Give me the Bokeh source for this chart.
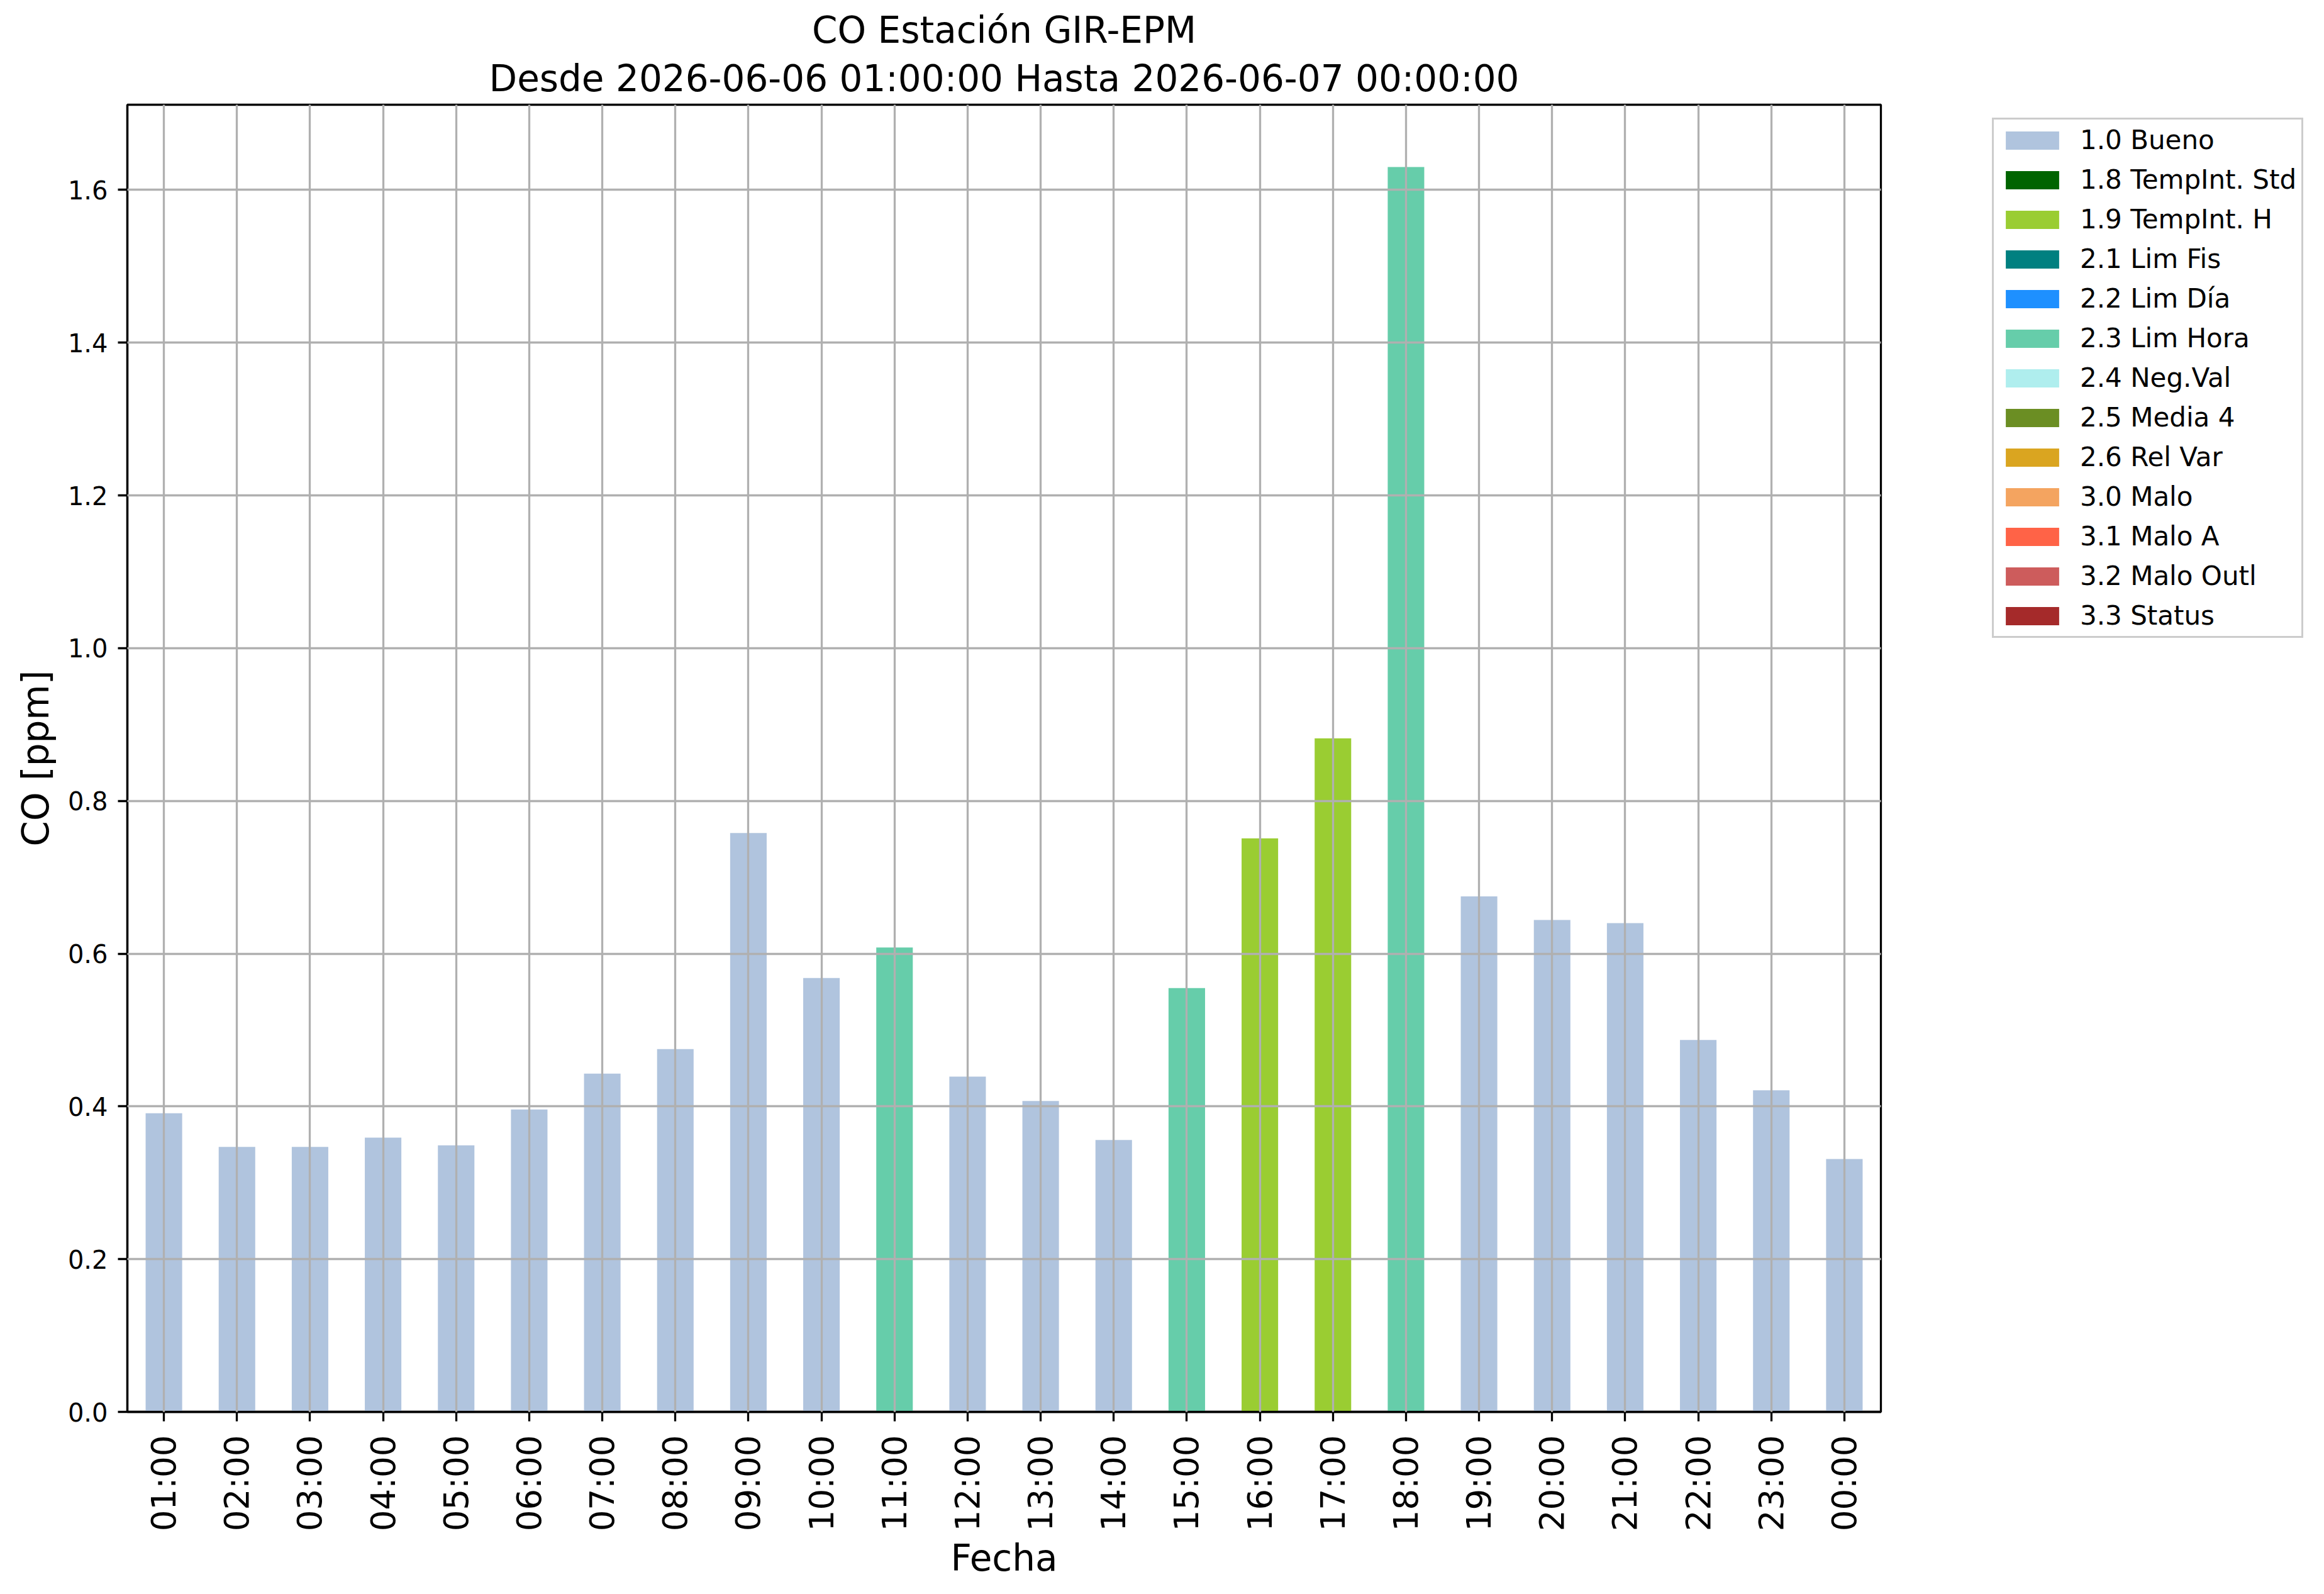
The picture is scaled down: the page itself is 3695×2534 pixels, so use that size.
import math
from bokeh.plotting import figure
from bokeh.layouts import row
from bokeh.models import (FactorRange, Range1d, Legend, LegendItem, Title,
                          FixedTicker, PrintfTickFormatter)
from bokeh.embed import file_html
from bokeh.resources import INLINE

# ---- data ----
hours = ["01:00", "02:00", "03:00", "04:00", "05:00", "06:00", "07:00", "08:00",
         "09:00", "10:00", "11:00", "12:00", "13:00", "14:00", "15:00", "16:00",
         "17:00", "18:00", "19:00", "20:00", "21:00", "22:00", "23:00", "00:00"]
co_values = [0.391, 0.347, 0.347, 0.359, 0.349, 0.396, 0.443, 0.475,
             0.758, 0.568, 0.608, 0.439, 0.407, 0.356, 0.555, 0.751,
             0.882, 1.630, 0.675, 0.644, 0.640, 0.487, 0.421, 0.331]
hour_flags = ["1.0 Bueno"] * 10 + ["2.3 Lim Hora"] + ["1.0 Bueno"] * 3 + \
             ["2.3 Lim Hora", "1.9 TempInt. H", "1.9 TempInt. H", "2.3 Lim Hora"] + \
             ["1.0 Bueno"] * 6
flag_names = ["1.0 Bueno", "1.8 TempInt. Std", "1.9 TempInt. H", "2.1 Lim Fis",
              "2.2 Lim Día", "2.3 Lim Hora", "2.4 Neg.Val", "2.5 Media 4",
              "2.6 Rel Var", "3.0 Malo", "3.1 Malo A", "3.2 Malo Outl", "3.3 Status"]
flag_colors = ["#B0C4DE", "#006400", "#9ACD32", "#008080", "#1E90FF", "#66CDAA",
               "#AFEEEE", "#6B8E23", "#DAA520", "#F4A460", "#FF6347", "#CD5C5C",
               "#A52A2A"]
y_ticks = [0.0, 0.2, 0.4, 0.6, 0.8, 1.0, 1.2, 1.4, 1.6]

title_line1 = "CO Estación GIR-EPM"
title_line2 = "Desde 2026-06-06 01:00:00 Hasta 2026-06-07 00:00:00"

FONT = "DejaVu Sans"
LW = 3.3
H = 2518

# ---------------- main chart ----------------
p = figure(width=3000, height=H,
           x_range=FactorRange(factors=hours),
           y_range=Range1d(0, max(co_values) * 1.05),
           output_backend="svg", toolbar_location=None,
           min_border_left=202, min_border_right=10,
           min_border_top=166, min_border_bottom=274)

p.title = None
t2 = Title(text=title_line2, align="center", text_font=FONT, text_color="black",
           text_font_size="58px", text_font_style="normal", standoff=15)
t1 = Title(text=title_line1, align="center", text_font=FONT, text_color="black",
           text_font_size="58px", text_font_style="normal", standoff=0)
p.add_layout(t2, "above")
p.add_layout(t1, "above")

# stacked like pandas: every flag gets every hour, zero where not flagged
for name, color in zip(flag_names, flag_colors):
    tops = [v if f == name else 0.0 for v, f in zip(co_values, hour_flags)]
    p.vbar(x=hours, top=tops, bottom=0, width=0.5,
           fill_color=color, line_color=None)

for g in (p.xgrid, p.ygrid):
    g.grid_line_color = "#b0b0b0"
    g.grid_line_width = LW
    g.level = "overlay"

p.outline_line_color = "black"
p.outline_line_width = LW
p.background_fill_color = "white"
p.border_fill_color = "white"

p.yaxis.ticker = FixedTicker(ticks=y_ticks)
p.yaxis.formatter = PrintfTickFormatter(format="%.1f")
for ax in (p.xaxis, p.yaxis):
    ax.axis_line_color = "black"
    ax.axis_line_width = LW
    ax.major_tick_line_width = LW
    ax.major_tick_line_color = "black"
    ax.major_tick_out = 15
    ax.major_tick_in = 0
    ax.minor_tick_line_color = None
    ax.axis_label_text_font = FONT
    ax.axis_label_text_font_size = "58px"
    ax.axis_label_text_font_style = "normal"
    ax.axis_label_text_color = "black"
    ax.major_label_text_font = FONT
    ax.major_label_text_color = "black"

p.xaxis.axis_label = "Fecha"
p.xaxis.major_label_text_font_size = "53px"
p.xaxis.major_label_orientation = math.pi / 2
p.xaxis.major_label_standoff = 22
p.xaxis.axis_label_standoff = 6

p.yaxis.axis_label = "CO [ppm]"
p.yaxis.major_label_text_font_size = "40px"
p.yaxis.major_label_standoff = 16
p.yaxis.axis_label_standoff = 14

# ---------------- legend panel ----------------
q = figure(width=679, height=H, x_range=Range1d(0, 1), y_range=Range1d(0, 1),
           x_axis_type=None, y_axis_type=None,
           output_backend="svg", toolbar_location=None,
           min_border=0, min_border_left=0, min_border_right=0,
           min_border_top=0, min_border_bottom=0)
q.outline_line_color = None
q.background_fill_color = "white"
q.border_fill_color = "white"

items = []
for name, color in zip(flag_names, flag_colors):
    proxy = q.vbar(x=[0.5], top=[0.0], bottom=0.0, width=0.1,
                   fill_color=color, line_color=None)
    items.append(LegendItem(label=name, renderers=[proxy]))

legend = Legend(items=items, location=(167, 1230), ncols=1,
                label_text_font=FONT, label_text_font_size="42px",
                label_text_color="black",
                glyph_width=106, glyph_height=36, label_height=48,
                label_standoff=23, spacing=14, padding=8, margin=0,
                border_line_color="#cccccc", border_line_width=LW,
                border_line_alpha=1.0, background_fill_color="white",
                background_fill_alpha=1.0)
q.add_layout(legend, "center")

layout = row(p, q, spacing=0)
open("out.html", "w").write(file_html(layout, INLINE))
